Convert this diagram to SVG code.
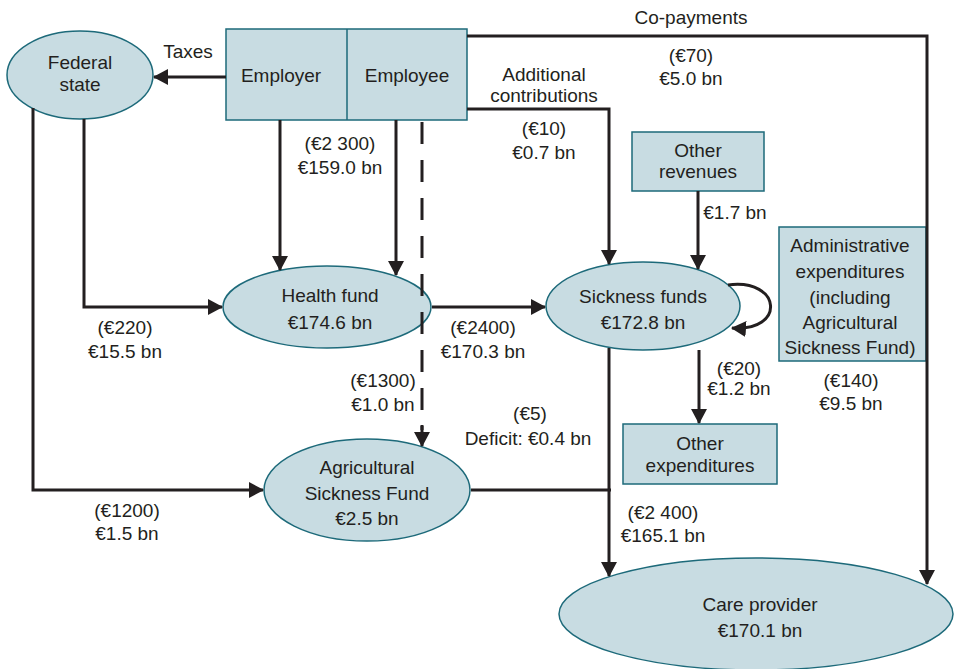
<svg xmlns="http://www.w3.org/2000/svg" width="954" height="669" viewBox="0 0 954 669">
<defs>
<style>
.node{fill:#c8dce2;stroke:#1d6a7a;stroke-width:1.5}
.t{font-family:"Liberation Sans",Arial,sans-serif;font-size:19px;fill:#231f20;text-anchor:middle}
.c{fill:none;stroke:#231f20;stroke-width:3}
.d{stroke-dasharray:22 16}
</style>
<marker id="ah" markerUnits="userSpaceOnUse" markerWidth="15" markerHeight="16" refX="14" refY="8" orient="auto">
<path d="M0,0 L15,8 L0,16 z" fill="#231f20"/>
</marker>
</defs>
<rect width="954" height="669" fill="#ffffff"/>

<g id="federal-state">
<ellipse class="node" cx="80" cy="75" rx="73" ry="44"/>
<text class="t" x="80" y="69">Federal</text>
<text class="t" x="80" y="91">state</text>
</g>

<g id="employer-employee">
<rect class="node" x="226" y="29" width="241" height="91"/>
<line x1="347" y1="29" x2="347" y2="120" stroke="#1d6a7a" stroke-width="1.5"/>
<text class="t" x="281" y="82">Employer</text>
<text class="t" x="407" y="82">Employee</text>
</g>

<g id="other-revenues">
<rect class="node" x="632" y="132" width="132" height="59"/>
<text class="t" x="698" y="157">Other</text>
<text class="t" x="698" y="178">revenues</text>
</g>

<g id="health-fund">
<ellipse class="node" cx="327" cy="307" rx="104" ry="41"/>
<text class="t" x="330" y="302">Health fund</text>
<text class="t" x="330" y="329">€174.6 bn</text>
</g>

<g id="sickness-funds">
<ellipse class="node" cx="643" cy="306" rx="97" ry="44"/>
<text class="t" x="643" y="303">Sickness funds</text>
<text class="t" x="643" y="329">€172.8 bn</text>
</g>

<g id="administrative-expenditures">
<rect class="node" x="779" y="227" width="147" height="134"/>
<text class="t" x="850" y="252">Administrative</text>
<text class="t" x="850" y="278">expenditures</text>
<text class="t" x="850" y="304">(including</text>
<text class="t" x="850" y="329">Agricultural</text>
<text class="t" x="850" y="354">Sickness Fund)</text>
</g>

<g id="other-expenditures">
<rect class="node" x="623" y="424" width="154" height="60"/>
<text class="t" x="700" y="450">Other</text>
<text class="t" x="700" y="472">expenditures</text>
</g>

<g id="agricultural-sickness-fund">
<ellipse class="node" cx="367" cy="490" rx="103" ry="51"/>
<text class="t" x="367" y="474">Agricultural</text>
<text class="t" x="367" y="500">Sickness Fund</text>
<text class="t" x="367" y="525">€2.5 bn</text>
</g>

<g id="care-provider">
<ellipse class="node" cx="756" cy="614" rx="197" ry="56"/>
<text class="t" x="760" y="611">Care provider</text>
<text class="t" x="760" y="637">€170.1 bn</text>
</g>

<g id="connectors">
<path class="c" d="M226,77 L154,77" marker-end="url(#ah)"/>
<path class="c" d="M467,36 L927,36 L927,584" marker-end="url(#ah)"/>
<path class="c" d="M467,109 L609,109 L609,264" marker-end="url(#ah)"/>
<path class="c" d="M698,191 L698,269" marker-end="url(#ah)"/>
<path class="c" d="M280,120 L280,270" marker-end="url(#ah)"/>
<path class="c" d="M396,120 L396,275" marker-end="url(#ah)"/>
<path class="c d" d="M422,122 L422,430"/>
<path class="c" d="M422,425 L422,446" marker-end="url(#ah)"/>
<path class="c" d="M84,119 L84,307 L222,307" marker-end="url(#ah)"/>
<path class="c" d="M33,108 L33,490 L263,490" marker-end="url(#ah)"/>
<path class="c" d="M432,307 L545,307" marker-end="url(#ah)"/>
<path class="c" d="M728,285 C782,278 786,332 732,328" marker-end="url(#ah)"/>
<path class="c" d="M699,350 L699,423" marker-end="url(#ah)"/>
<path class="c" d="M609,348 L609,576" marker-end="url(#ah)"/>
<path class="c" d="M471,490 L611,490"/>
</g>

<g id="labels">
<text class="t" x="188" y="58">Taxes</text>
<text class="t" x="691" y="24">Co-payments</text>
<text class="t" x="691" y="62">(€70)</text>
<text class="t" x="691" y="85">€5.0 bn</text>
<text class="t" x="544" y="81">Additional</text>
<text class="t" x="544" y="102">contributions</text>
<text class="t" x="544" y="135">(€10)</text>
<text class="t" x="544" y="159">€0.7 bn</text>
<text class="t" x="340" y="150">(€2 300)</text>
<text class="t" x="340" y="174">€159.0 bn</text>
<text class="t" x="735" y="219">€1.7 bn</text>
<text class="t" x="125" y="334">(€220)</text>
<text class="t" x="125" y="358">€15.5 bn</text>
<text class="t" x="483" y="334">(€2400)</text>
<text class="t" x="483" y="358">€170.3 bn</text>
<text class="t" x="383" y="387">(€1300)</text>
<text class="t" x="383" y="411">€1.0 bn</text>
<text class="t" x="739" y="375">(€20)</text>
<text class="t" x="739" y="395">€1.2 bn</text>
<text class="t" x="851" y="387">(€140)</text>
<text class="t" x="851" y="410">€9.5 bn</text>
<text class="t" x="530" y="420">(€5)</text>
<text class="t" x="528" y="445">Deficit: €0.4 bn</text>
<text class="t" x="127" y="517">(€1200)</text>
<text class="t" x="127" y="540">€1.5 bn</text>
<text class="t" x="663" y="519">(€2 400)</text>
<text class="t" x="663" y="542">€165.1 bn</text>
</g>
</svg>
